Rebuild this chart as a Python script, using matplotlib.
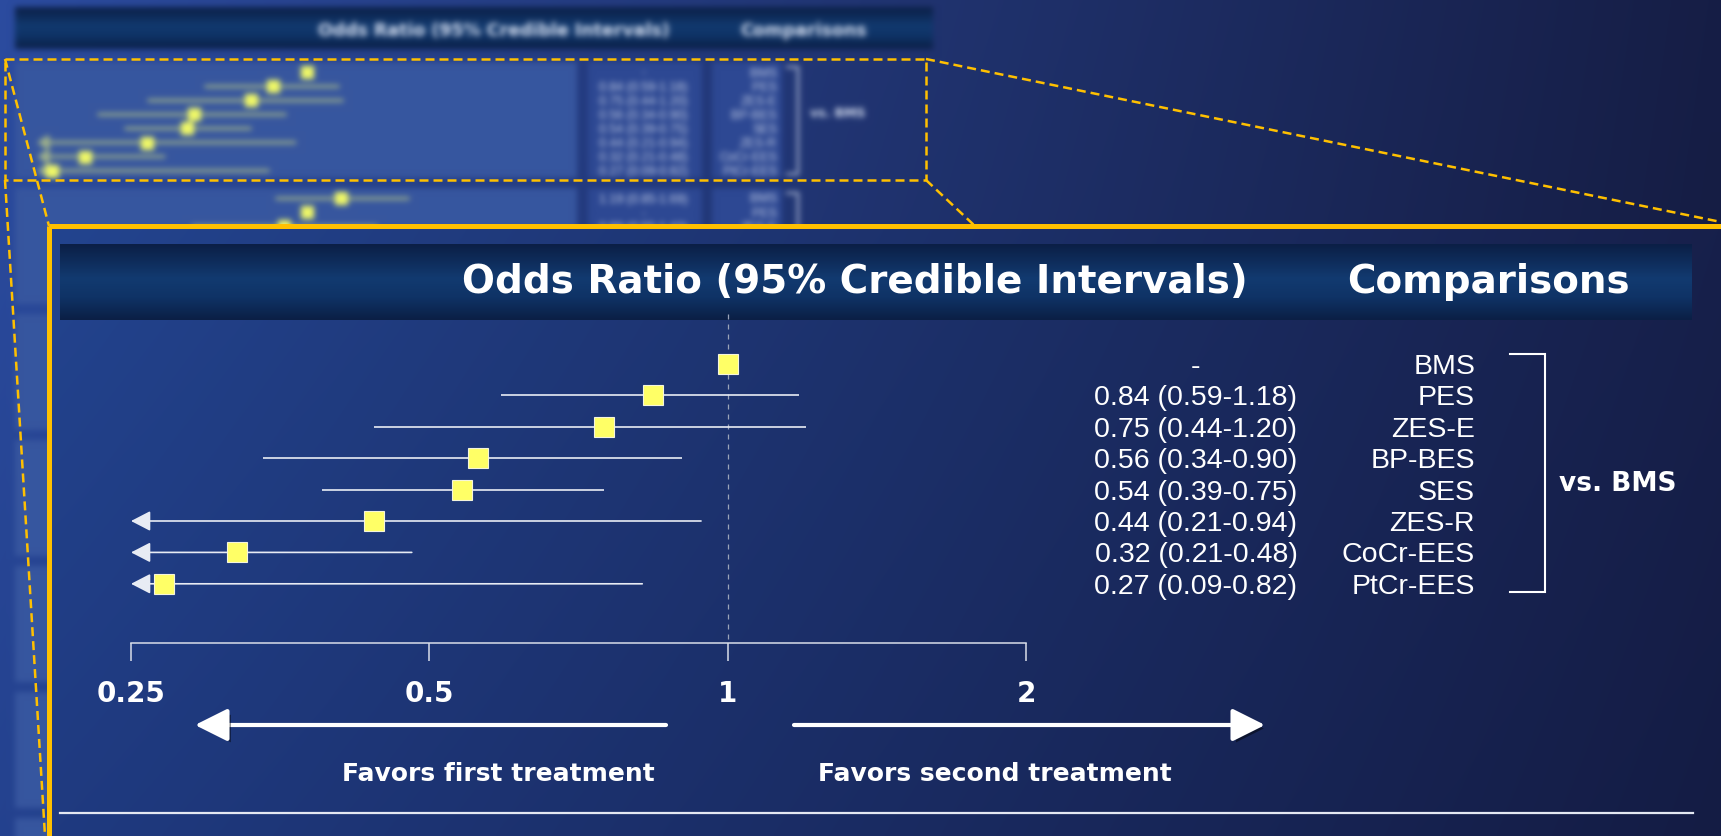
import numpy as np
import matplotlib
matplotlib.use("Agg")
import matplotlib.pyplot as plt
from matplotlib.figure import Figure
from matplotlib.backends.backend_agg import FigureCanvasAgg
from matplotlib.colors import to_rgb
from matplotlib.patches import Rectangle, FancyArrowPatch
from matplotlib.ticker import NullLocator
import matplotlib.transforms as mtransforms
import matplotlib.patheffects as pe

# ---------------- data ----------------
comparators = ["BMS", "PES", "ZES-E", "BP-BES", "SES", "ZES-R", "CoCr-EES", "PtCr-EES"]
odds_ratio = [1.00, 0.84, 0.75, 0.56, 0.54, 0.44, 0.32, 0.27]
ci_lower = [np.nan, 0.59, 0.44, 0.34, 0.39, 0.21, 0.21, 0.09]
ci_upper = [np.nan, 1.18, 1.20, 0.90, 0.75, 0.94, 0.48, 0.82]
reference = "BMS"

# first rows of the next block of the slide overview (vs. PES)
pes_comparators = ["BMS", "PES", "ZES-E"]
pes_odds_ratio = [1.19, 1.00, 0.89]
pes_ci_lower = [0.85, np.nan, 0.55]
pes_ci_upper = [1.69, np.nan, 1.43]
pes_reference = "PES"

tick_values = [0.25, 0.5, 1, 2]
tick_labels = ["0.25", "0.5", "1", "2"]

header_or = "Odds Ratio (95% Credible Intervals)"
header_cmp = "Comparisons"
favors_left = "Favors first treatment"
favors_right = "Favors second treatment"

# ---------------- layout / style ----------------
W, H, DPI = 1721, 836, 100
BOLD = dict(family="DejaVu Sans", fontweight="bold")
REG = dict(family="Liberation Sans")
GOLD = "#FFC000"


def fmt(o, lo, hi):
    return "-" if np.isnan(lo) else f"{o:.2f} ({lo:.2f}-{hi:.2f})"


def bilinear(w, h, tl, tr, bl, br):
    u = np.linspace(0, 1, w)[None, :, None]
    v = np.linspace(0, 1, h)[:, None, None]
    tl, tr, bl, br = (np.array(to_rgb(c)) for c in (tl, tr, bl, br))
    return (1 - u) * (1 - v) * tl + u * (1 - v) * tr + (1 - u) * v * bl + u * v * br


def band(w, h, stops):
    pos = [s[0] for s in stops]
    cols = np.array([to_rgb(s[1]) for s in stops])
    t = np.linspace(0, 1, h)
    prof = np.stack([np.interp(t, pos, cols[:, i]) for i in range(3)], axis=1)
    return np.repeat(prof[:, None, :], w, axis=1)


def blur(img, sigma):
    r = int(np.ceil(3 * sigma))
    k = np.exp(-0.5 * (np.arange(-r, r + 1) / sigma) ** 2)
    k /= k.sum()
    p = np.pad(img, ((r, r), (0, 0), (0, 0)), mode="edge")
    img = sum(k[i] * p[i:i + img.shape[0]] for i in range(2 * r + 1))
    p = np.pad(img, ((0, 0), (r, r), (0, 0)), mode="edge")
    img = sum(k[i] * p[:, i:i + img.shape[1]] for i in range(2 * r + 1))
    return np.clip(img, 0, 1)


def pixel_axes(fig):
    a = fig.add_axes([0, 0, 1, 1])
    a.set_xlim(0, W)
    a.set_ylim(H, 0)
    a.axis("off")
    return a


def forest_axes(fig, x0, x1, row0, step, top, bot):
    ax = fig.add_axes([x0 / W, 1 - bot / H, (x1 - x0) / W, (bot - top) / H])
    ax.set_xscale("log", base=2)
    ax.set_xlim(tick_values[0], tick_values[-1])
    ax.set_ylim((bot - row0) / step, (top - row0) / step)
    ax.set_facecolor("none")
    ax.xaxis.set_minor_locator(NullLocator())
    ax.set_yticks([])
    for s in ("top", "left", "right"):
        ax.spines[s].set_visible(False)
    return ax


def draw_rows(ax, ors, los, his, sq, face, edge, line_c, lw, head):
    rows = np.arange(len(ors))
    lo_lim = ax.get_xlim()[0]
    for r, lo, hi in zip(rows, los, his):
        if np.isnan(lo):
            continue
        if lo < lo_lim:
            ax.annotate("", xy=(lo_lim, r), xytext=(hi, r),
                        arrowprops=dict(arrowstyle=f"-|>,head_length={head[0]},head_width={head[1]}",
                                        color=line_c, lw=lw, shrinkA=0, shrinkB=0,
                                        mutation_scale=1),
                        annotation_clip=False)
        else:
            ax.plot([lo, hi], [r, r], color=line_c, lw=lw, solid_capstyle="butt", clip_on=False)
    ax.plot(ors, rows, ls="none", marker="s", ms=sq, mfc=face, mec=edge, mew=0.8,
            zorder=4, clip_on=False)


def row_text(fig, xaxes, yaxes, dy_px):
    base = mtransforms.blended_transform_factory(xaxes.transData, yaxes.transData)
    return base + mtransforms.ScaledTranslation(0, -dy_px / DPI, fig.dpi_scale_trans), base


BG_CORNERS = ("#2c4ca0", "#161e46", "#24428f", "#141b40")
HEADER_STOPS = [(0, "#0b1f46"), (0.45, "#123a70"), (0.7, "#0f3366"), (1, "#0b1f45")]

# ---------------- overview slide (drawn off-screen, then softened) ----------------
tfig = Figure(figsize=(W / DPI, H / DPI), dpi=DPI)
FigureCanvasAgg(tfig)
tb = pixel_axes(tfig)
tb.imshow(bilinear(400, 200, *BG_CORNERS), extent=(0, W, H, 0), aspect="auto",
          interpolation="bilinear", zorder=0)
tb.imshow(band(50, 60, HEADER_STOPS), extent=(15, 933, 49, 7), aspect="auto",
          interpolation="bilinear", zorder=1)
tb.text(494, 36, header_or, ha="center", va="baseline", fontsize=12.5, color="#dce4f4", zorder=2, **BOLD)
tb.text(803, 36, header_cmp, ha="center", va="baseline", fontsize=12.5, color="#dce4f4", zorder=2, **BOLD)

for k in range(7):
    top = 62 + 126 * k
    tb.add_patch(Rectangle((15, top), 562, 116, color="#37569f", lw=0, zorder=1))
    tb.add_patch(Rectangle((588, top), 114, 116, color="#2d4893", lw=0, zorder=1))
    tb.add_patch(Rectangle((712, top), 70, 116, color="#2d4893", lw=0, zorder=1))

thumb_groups = [
    (72, 62, comparators, odds_ratio, ci_lower, ci_upper, reference),
    (198, 188, pes_comparators, pes_odds_ratio, pes_ci_lower, pes_ci_upper, pes_reference),
]
for row0, top, names, ors, los, his, ref in thumb_groups:
    tax = forest_axes(tfig, 37, 442, row0, 14.1, top, top + 116)
    tax.axis("off")
    draw_rows(tax, ors, los, his, sq=9, face="#f4fc66", edge="#f4fc66",
              line_c="#a3b58a", lw=2.2, head=(6, 4))
    ttr, tbase = row_text(tfig, tb, tax, 4.5)
    for r, (nm, o, lo, hi) in enumerate(zip(names, ors, los, his)):
        tax.text(643, r, fmt(o, lo, hi), transform=ttr, ha="center", va="baseline",
                 fontsize=9, color="#cfd8ec", clip_on=False, **REG)
        tax.text(777, r, nm, transform=ttr, ha="right", va="baseline",
                 fontsize=9, color="#cfd8ec", clip_on=False, **REG)
    tax.plot([787, 798, 798, 787], [-0.35, -0.35, 7.25, 7.25], transform=tbase,
             color="#cfd8ec", lw=1.4, clip_on=False)
    tax.text(810, 3.5, "vs. " + ref, transform=row_text(tfig, tb, tax, -4)[0], ha="left",
             va="baseline", fontsize=9, color="#dce4f4", clip_on=False, **BOLD)

tfig.canvas.draw()
overview = np.asarray(tfig.canvas.buffer_rgba())[..., :3].astype(float) / 255.0
overview = blur(overview, 3.0)

# ---------------- main figure ----------------
fig = plt.figure(figsize=(W / DPI, H / DPI), dpi=DPI)
bg = pixel_axes(fig)
bg.imshow(overview, extent=(0, W, H, 0), aspect="auto", interpolation="nearest", zorder=0)

# zoom call-out from the overview to the enlarged panel
dash = dict(color=GOLD, lw=1.8, ls=(0, (3.6, 2.0)), zorder=2, solid_capstyle="butt")
bg.plot([5, 926, 926, 5, 5], [59, 59, 180, 180, 59], **dash)
bg.plot([5, 49], [59, 226], **dash)
bg.plot([5, 45], [180, 836], **dash)
bg.plot([926, 1721], [59, 222], **dash)
bg.plot([926, 975], [180, 226], **dash)

# enlarged panel
bg.imshow(bilinear(400, 200, "#23448f", "#17204b", "#1f3a80", "#141c44"),
          extent=(49, W, H, 226), aspect="auto", interpolation="bilinear", zorder=3)
bg.add_patch(Rectangle((49, 226), 3000, 3000, fill=False, ec=GOLD, lw=3.6, zorder=4))
bg.imshow(band(50, 80, HEADER_STOPS), extent=(60, 1692, 320, 244), aspect="auto",
          interpolation="bilinear", zorder=5)
bg.text(855, 293, header_or, ha="center", va="baseline", fontsize=28, color="white", zorder=6, **BOLD)
bg.text(1488, 293, header_cmp, ha="center", va="baseline", fontsize=28, color="white", zorder=6, **BOLD)
bg.plot([60, 1693], [813, 813], color="#e4e8f2", lw=1.6, zorder=6)

# direction arrows
shadow = [pe.SimplePatchShadow(offset=(2.5, -2.5), shadow_rgbFace="black", alpha=0.45), pe.Normal()]
for tail, tip in (((666, 725), (195, 725)), ((794, 725), (1265, 725))):
    arr = FancyArrowPatch(tail, tip, arrowstyle="-|>,head_length=20,head_width=10",
                          mutation_scale=1, lw=3, color="white", shrinkA=0, shrinkB=0, zorder=6)
    arr.set_path_effects(shadow)
    bg.add_patch(arr)
bg.text(498, 781, favors_left, ha="center", va="baseline", fontsize=18, color="white", zorder=6, **BOLD)
bg.text(995, 781, favors_right, ha="center", va="baseline", fontsize=18, color="white", zorder=6, **BOLD)

# forest plot
ROW0, STEP = 364, 31.4
ax = forest_axes(fig, 131, 1026, ROW0, STEP, 300, 800)
axis_row = (643 - ROW0) / STEP
ax.spines["bottom"].set_position(("data", axis_row))
ax.spines["bottom"].set_color("#d9dee9")
ax.spines["bottom"].set_linewidth(1.1)
ax.set_xticks(tick_values, labels=tick_labels, fontsize=20, color="white", **BOLD)
ax.tick_params(axis="x", direction="out", length=13, width=1.1, color="#d9dee9", pad=14)

ref_or = odds_ratio[comparators.index(reference)]
ax.plot([ref_or, ref_or], [(314 - ROW0) / STEP, axis_row], color="#9aa3b8", lw=0.9,
        ls=(0, (4, 4)), zorder=1, clip_on=False)
draw_rows(ax, odds_ratio, ci_lower, ci_upper, sq=13.7, face="#ffff66", edge="#f4f4dc",
          line_c="#e8ecf4", lw=1.2, head=(12, 6.2))

# value and comparator columns
tr, base = row_text(fig, bg, ax, 10)
for r, (nm, o, lo, hi) in enumerate(zip(comparators, odds_ratio, ci_lower, ci_upper)):
    ax.text(1196, r, fmt(o, lo, hi), transform=tr, ha="center", va="baseline",
            fontsize=20.5, color="white", clip_on=False, **REG)
    ax.text(1475, r, nm, transform=tr, ha="right", va="baseline",
            fontsize=20.5, color="white", clip_on=False, **REG)
ax.plot([1510, 1545, 1545, 1510], [-0.32, -0.32, 7.27, 7.27], transform=base,
        color="white", lw=1.5, clip_on=False, solid_joinstyle="miter")
ax.text(1559, 3.5, "vs. " + reference, transform=row_text(fig, bg, ax, 17)[0], ha="left",
        va="baseline", fontsize=19, color="white", clip_on=False, **BOLD)

fig.savefig("out.png", dpi=DPI)
